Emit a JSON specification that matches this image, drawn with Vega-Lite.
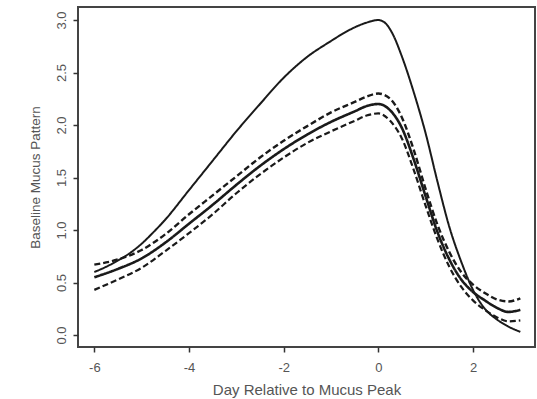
{
  "$schema": "https://vega.github.io/schema/vega-lite/v6.json",
  "width": 457,
  "height": 340,
  "autosize": {"type": "none"},
  "padding": {"left": 78, "top": 7, "right": 2, "bottom": 52},
  "background": "white",
  "config": {
    "view": {"stroke": "#444", "strokeWidth": 2},
    "font": "Liberation Sans",
    "axis": {
      "grid": false,
      "domain": false,
      "tickColor": "#333",
      "tickSize": 5,
      "tickWidth": 1.5,
      "labelColor": "#555",
      "titleColor": "#555",
      "labelFont": "Liberation Sans",
      "titleFont": "Liberation Sans",
      "titleFontWeight": "normal"
    }
  },
  "datasets": {
    "curves": [
      {"x": -6, "y": 0.55, "series": "estimate"},
      {"x": -5.5, "y": 0.63, "series": "estimate"},
      {"x": -5, "y": 0.73, "series": "estimate"},
      {"x": -4.5, "y": 0.88, "series": "estimate"},
      {"x": -4, "y": 1.06, "series": "estimate"},
      {"x": -3.5, "y": 1.24, "series": "estimate"},
      {"x": -3, "y": 1.43, "series": "estimate"},
      {"x": -2.5, "y": 1.61, "series": "estimate"},
      {"x": -2, "y": 1.77, "series": "estimate"},
      {"x": -1.5, "y": 1.91, "series": "estimate"},
      {"x": -1, "y": 2.03, "series": "estimate"},
      {"x": -0.5, "y": 2.13, "series": "estimate"},
      {"x": -0.25, "y": 2.18, "series": "estimate"},
      {"x": 0, "y": 2.2, "series": "estimate"},
      {"x": 0.25, "y": 2.14, "series": "estimate"},
      {"x": 0.5, "y": 1.97, "series": "estimate"},
      {"x": 0.75, "y": 1.67, "series": "estimate"},
      {"x": 1, "y": 1.32, "series": "estimate"},
      {"x": 1.25, "y": 0.98, "series": "estimate"},
      {"x": 1.5, "y": 0.72, "series": "estimate"},
      {"x": 1.75, "y": 0.53, "series": "estimate"},
      {"x": 2, "y": 0.41, "series": "estimate"},
      {"x": 2.25, "y": 0.33, "series": "estimate"},
      {"x": 2.5, "y": 0.26, "series": "estimate"},
      {"x": 2.75, "y": 0.22, "series": "estimate"},
      {"x": 3, "y": 0.24, "series": "estimate"},

      {"x": -6, "y": 0.67, "series": "upper"},
      {"x": -5.5, "y": 0.72, "series": "upper"},
      {"x": -5, "y": 0.81, "series": "upper"},
      {"x": -4.5, "y": 0.96, "series": "upper"},
      {"x": -4, "y": 1.15, "series": "upper"},
      {"x": -3.5, "y": 1.33, "series": "upper"},
      {"x": -3, "y": 1.51, "series": "upper"},
      {"x": -2.5, "y": 1.69, "series": "upper"},
      {"x": -2, "y": 1.85, "series": "upper"},
      {"x": -1.5, "y": 1.99, "series": "upper"},
      {"x": -1, "y": 2.12, "series": "upper"},
      {"x": -0.5, "y": 2.22, "series": "upper"},
      {"x": -0.25, "y": 2.27, "series": "upper"},
      {"x": 0, "y": 2.3, "series": "upper"},
      {"x": 0.25, "y": 2.25, "series": "upper"},
      {"x": 0.5, "y": 2.07, "series": "upper"},
      {"x": 0.75, "y": 1.76, "series": "upper"},
      {"x": 1, "y": 1.39, "series": "upper"},
      {"x": 1.25, "y": 1.05, "series": "upper"},
      {"x": 1.5, "y": 0.79, "series": "upper"},
      {"x": 1.75, "y": 0.6, "series": "upper"},
      {"x": 2, "y": 0.48, "series": "upper"},
      {"x": 2.25, "y": 0.4, "series": "upper"},
      {"x": 2.5, "y": 0.34, "series": "upper"},
      {"x": 2.75, "y": 0.32, "series": "upper"},
      {"x": 3, "y": 0.35, "series": "upper"},

      {"x": -6, "y": 0.43, "series": "lower"},
      {"x": -5.5, "y": 0.53, "series": "lower"},
      {"x": -5, "y": 0.64, "series": "lower"},
      {"x": -4.5, "y": 0.8, "series": "lower"},
      {"x": -4, "y": 0.97, "series": "lower"},
      {"x": -3.5, "y": 1.15, "series": "lower"},
      {"x": -3, "y": 1.35, "series": "lower"},
      {"x": -2.5, "y": 1.53, "series": "lower"},
      {"x": -2, "y": 1.69, "series": "lower"},
      {"x": -1.5, "y": 1.83, "series": "lower"},
      {"x": -1, "y": 1.94, "series": "lower"},
      {"x": -0.5, "y": 2.04, "series": "lower"},
      {"x": -0.25, "y": 2.09, "series": "lower"},
      {"x": 0, "y": 2.11, "series": "lower"},
      {"x": 0.25, "y": 2.04, "series": "lower"},
      {"x": 0.5, "y": 1.87, "series": "lower"},
      {"x": 0.75, "y": 1.57, "series": "lower"},
      {"x": 1, "y": 1.23, "series": "lower"},
      {"x": 1.25, "y": 0.91, "series": "lower"},
      {"x": 1.5, "y": 0.65, "series": "lower"},
      {"x": 1.75, "y": 0.46, "series": "lower"},
      {"x": 2, "y": 0.33, "series": "lower"},
      {"x": 2.25, "y": 0.24, "series": "lower"},
      {"x": 2.5, "y": 0.17, "series": "lower"},
      {"x": 2.75, "y": 0.13, "series": "lower"},
      {"x": 3, "y": 0.14, "series": "lower"},

      {"x": -6, "y": 0.6, "series": "comparison"},
      {"x": -5.75, "y": 0.65, "series": "comparison"},
      {"x": -5.5, "y": 0.71, "series": "comparison"},
      {"x": -5.25, "y": 0.78, "series": "comparison"},
      {"x": -5, "y": 0.87, "series": "comparison"},
      {"x": -4.75, "y": 0.98, "series": "comparison"},
      {"x": -4.5, "y": 1.1, "series": "comparison"},
      {"x": -4, "y": 1.38, "series": "comparison"},
      {"x": -3.5, "y": 1.66, "series": "comparison"},
      {"x": -3, "y": 1.94, "series": "comparison"},
      {"x": -2.5, "y": 2.2, "series": "comparison"},
      {"x": -2, "y": 2.45, "series": "comparison"},
      {"x": -1.5, "y": 2.65, "series": "comparison"},
      {"x": -1, "y": 2.8, "series": "comparison"},
      {"x": -0.75, "y": 2.87, "series": "comparison"},
      {"x": -0.5, "y": 2.93, "series": "comparison"},
      {"x": -0.25, "y": 2.975, "series": "comparison"},
      {"x": 0, "y": 3.0, "series": "comparison"},
      {"x": 0.15, "y": 2.97, "series": "comparison"},
      {"x": 0.3, "y": 2.87, "series": "comparison"},
      {"x": 0.5, "y": 2.65, "series": "comparison"},
      {"x": 0.75, "y": 2.31, "series": "comparison"},
      {"x": 1, "y": 1.92, "series": "comparison"},
      {"x": 1.25, "y": 1.46, "series": "comparison"},
      {"x": 1.5, "y": 1.03, "series": "comparison"},
      {"x": 1.75, "y": 0.7, "series": "comparison"},
      {"x": 2, "y": 0.43, "series": "comparison"},
      {"x": 2.25, "y": 0.25, "series": "comparison"},
      {"x": 2.5, "y": 0.15, "series": "comparison"},
      {"x": 2.75, "y": 0.08, "series": "comparison"},
      {"x": 3, "y": 0.03, "series": "comparison"}
    ]
  },
  "data": {"name": "curves"},
  "mark": {"type": "line", "interpolate": "monotone", "color": "#1a1a1a", "clip": true},
  "encoding": {
    "x": {
      "field": "x",
      "type": "quantitative",
      "scale": {"domain": [-6.345, 3.31], "nice": false, "zero": false},
      "axis": {
        "values": [-6, -4, -2, 0, 2],
        "labelExpr": "'' + datum.value",
        "title": "Day Relative to Mucus Peak",
        "labelFontSize": 13,
        "titleFontSize": 15,
        "labelPadding": 9,
        "titlePadding": 8
      }
    },
    "y": {
      "field": "y",
      "type": "quantitative",
      "scale": {"domain": [-0.114, 3.124], "nice": false, "zero": false},
      "axis": {
        "values": [0, 0.5, 1, 1.5, 2, 2.5, 3],
        "format": ".1f",
        "title": "Baseline Mucus Pattern",
        "labelAngle": -90,
        "labelAlign": "center",
        "labelBaseline": "bottom",
        "labelFontSize": 13,
        "titleFontSize": 13.5,
        "labelPadding": 5,
        "titlePadding": 13
      }
    },
    "detail": {"field": "series"},
    "strokeWidth": {
      "field": "series",
      "type": "nominal",
      "scale": {"domain": ["estimate", "upper", "lower", "comparison"], "range": [2.6, 2, 2, 1.2]},
      "legend": null
    },
    "strokeDash": {
      "field": "series",
      "type": "nominal",
      "scale": {"domain": ["estimate", "upper", "lower", "comparison"], "range": [[1, 0], [6, 3], [6, 3], [1, 0]]},
      "legend": null
    }
  }
}
